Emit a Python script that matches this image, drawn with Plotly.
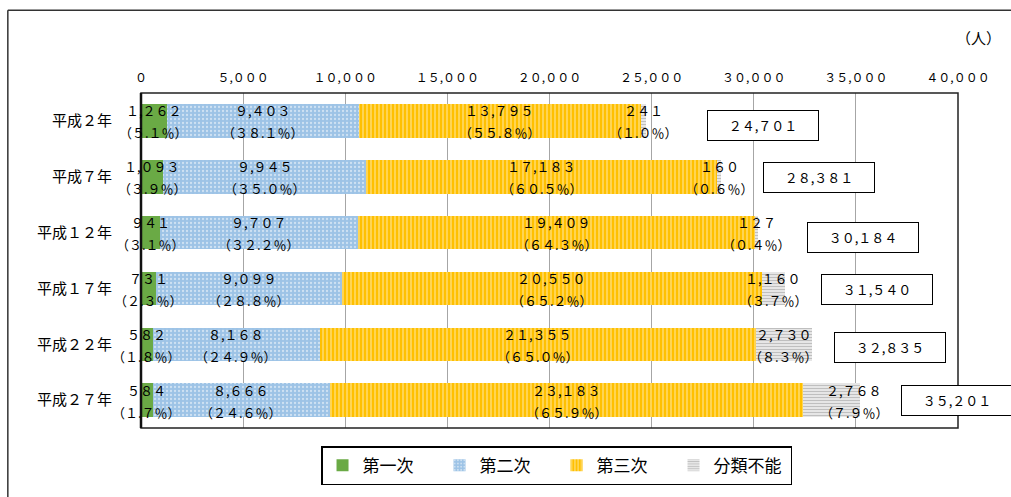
import plotly.graph_objects as go

# ---- data ----
categories = ["平成2年", "平成7年", "平成12年", "平成17年", "平成22年", "平成27年"]
series_names = ["第一次", "第二次", "第三次", "分類不能"]
primary = [1262, 1093, 941, 731, 582, 584]
secondary = [9403, 9945, 9707, 9099, 8168, 8666]
tertiary = [13795, 17183, 19409, 20550, 21355, 23183]
unclassified = [241, 160, 127, 1160, 2730, 2768]
primary_pct = [5.1, 3.9, 3.1, 2.3, 1.8, 1.7]
secondary_pct = [38.1, 35.0, 32.2, 28.8, 24.9, 24.6]
tertiary_pct = [55.8, 60.5, 64.3, 65.2, 65.0, 65.9]
unclassified_pct = [1.0, 0.6, 0.4, 3.7, 8.3, 7.9]
totals = [24701, 28381, 30184, 31540, 32835, 35201]
tick_vals = [0, 5000, 10000, 15000, 20000, 25000, 30000, 35000, 40000]

# ---- layout helpers (positions / styles) ----
FW = str.maketrans("0123456789%()", "０１２３４５６７８９％（）")


def fw(s):
    return s.translate(FW)


cat_labels = [fw(c) for c in categories]
box_x = [30440, 33190, 35340, 36030, 36670, 39950]   # total-box centers (data units)
box_yshift = [-5, -1, -5, -1, -3, 0]
label_xoff = {(3, 5): 1100}

FONT = "Noto Sans CJK JP"
values = [primary, secondary, tertiary, unclassified]
pcts = [primary_pct, secondary_pct, tertiary_pct, unclassified_pct]
styles = [
    dict(color="#6AAA45", pattern=dict(shape="")),
    dict(color="#9DC3E6", pattern=dict(shape=".", fgcolor="#FFFFFF", size=4,
                                        solidity=0.25, fillmode="overlay")),
    dict(color="#FFC000", pattern=dict(shape="|", fgcolor="#FFF4D0", size=4,
                                        solidity=0.4, fillmode="overlay")),
    dict(color="#FFFFFF", pattern=dict(shape="-", fgcolor="#7F7F7F", size=3,
                                        solidity=0.6, fillmode="overlay")),
]

fig = go.Figure()
for name, vals, st in zip(series_names, values, styles):
    fig.add_trace(go.Bar(
        y=cat_labels, x=vals, name=name, orientation="h",
        marker=dict(color=st["color"], pattern=st["pattern"], line=dict(width=0)),
        hoverinfo="skip",
    ))

annotations = []
for i in range(len(categories)):
    start = 0
    for j in range(4):
        v = values[j][i]
        xc = start + v / 2 + label_xoff.get((j, i), 0)
        annotations.append(dict(
            x=xc, y=cat_labels[i], xref="x", yref="y", text=fw(f"{v:,}"),
            showarrow=False, yshift=10, font=dict(family=FONT, size=13, color="#000"),
        ))
        annotations.append(dict(
            x=xc, y=cat_labels[i], xref="x", yref="y", text=fw(f"({pcts[j][i]:.1f}%)"),
            showarrow=False, yshift=-12, font=dict(family=FONT, size=13, color="#000"),
        ))
        start += v
    annotations.append(dict(
        x=box_x[i], y=cat_labels[i], xref="x", yref="y", text=fw(f"{totals[i]:,}"),
        showarrow=False, yshift=box_yshift[i], width=108, height=27,
        bgcolor="#FFFFFF", bordercolor="#000000", borderwidth=1, borderpad=1,
        font=dict(family=FONT, size=13, color="#000"),
    ))

annotations.append(dict(
    x=1.055, y=1.165, xref="paper", yref="paper", xanchor="right", yanchor="middle",
    text="（人）", showarrow=False, font=dict(family=FONT, size=15, color="#000"),
))

shapes = [
    # outer chart frame (top and left edges visible only)
    dict(type="line", xref="paper", yref="paper", x0=-0.163, x1=1.2, y0=1.247, y1=1.247,
         line=dict(color="#333333", width=1.5), layer="below"),
    dict(type="line", xref="paper", yref="paper", x0=-0.163, x1=-0.163, y0=-0.3, y1=1.247,
         line=dict(color="#333333", width=1.5), layer="below"),
    # plot area border
    dict(type="rect", xref="paper", yref="paper", x0=0, x1=1, y0=0, y1=1,
         line=dict(color="#222222", width=1.5), layer="above"),
    dict(type="line", xref="paper", yref="paper", x0=0, x1=0, y0=0, y1=1,
         line=dict(color="#111111", width=2.5), layer="above"),
]

fig.update_layout(
    width=1011, height=497,
    margin=dict(l=141, r=53, t=93, b=52),
    barmode="stack", bargap=0.4,
    paper_bgcolor="#FFFFFF", plot_bgcolor="#FFFFFF",
    font=dict(family=FONT, color="#000"),
    annotations=annotations, shapes=shapes,
    showlegend=True,
    legend=dict(
        orientation="h", x=0.5086, xanchor="center", y=-0.054, yanchor="top",
        bordercolor="#000000", borderwidth=1.5, bgcolor="#FFFFFF",
        font=dict(family=FONT, size=17, color="#000"),
        traceorder="normal", entrywidth=72, entrywidthmode="pixels",
        itemclick=False, itemdoubleclick=False,
    ),
    xaxis=dict(
        side="top", range=[0, 40000], tickvals=tick_vals,
        ticktext=[fw(f"{t:,}") for t in tick_vals],
        tickfont=dict(family=FONT, size=12, color="#000"),
        showgrid=True, gridcolor="#A6A6A6", gridwidth=1, zeroline=False,
        showline=False, ticks="", ticklabelstandoff=8, fixedrange=True,
    ),
    yaxis=dict(
        autorange="reversed", tickfont=dict(family=FONT, size=15, color="#000"),
        showgrid=False, zeroline=False, showline=False, ticks="",
        ticklabelstandoff=28, fixedrange=True,
    ),
)

fig.write_html(
    "out.html",
    config={"displayModeBar": False},
    post_script="document.body.style.margin='0';",
)
